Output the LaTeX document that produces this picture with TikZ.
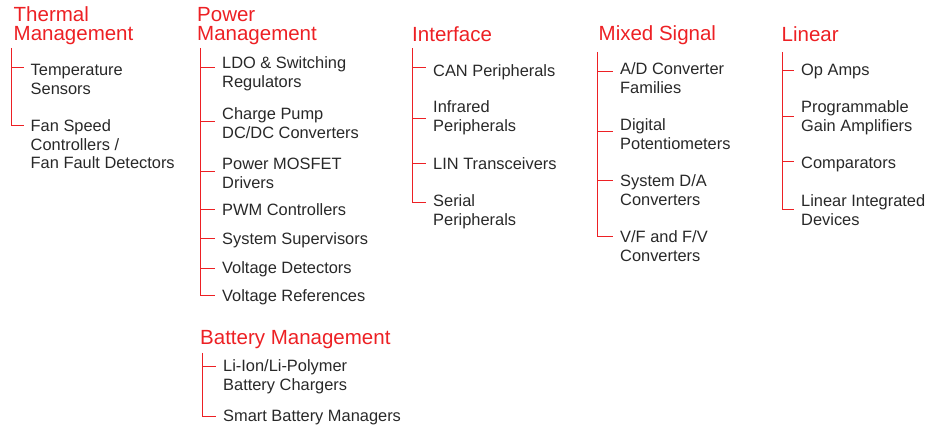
\documentclass[tikz,border=0pt]{standalone}
\usepackage{fontspec}
\setmainfont{Liberation Sans}
\usepackage{tikz}

\definecolor{mchred}{RGB}{237,32,36}
\definecolor{mchgray}{RGB}{40,40,40}
\newcommand{\catfont}{\fontsize{20.5}{19}\selectfont}
\newcommand{\prodfont}{\fontsize{16.4}{18.5}\selectfont}

% multi-line nodes sit on the baseline of their last line
\tikzset{
    cat/.style={anchor=base west, align=left, inner sep=0pt, text=mchred, font=\catfont},
    prod/.style={anchor=base west, align=left, inner xsep=7pt, inner ysep=0pt, text=mchgray, font=\prodfont},
    branch/.style={draw=mchred, line width=1pt}
}

\begin{document}
\begin{tikzpicture}[x=1pt, y=1pt]
    \useasboundingbox (0,0) rectangle (940,-427);

    % thermal management
    \node[cat] at (13.5,-40.5) (TM) {Thermal\\Management};
    \node[prod] at (23.5,-94.5) (TM1) {Temperature\\Sensors};
    \node[prod] at (23.5,-169) (TM2) {Fan Speed\\Controllers /\\Fan Fault Detectors};
    \coordinate (TM0) at (11,-48);
    \coordinate (t1) at (11,-68);
    \coordinate (t2) at (11,-126);
    \draw[branch] (TM0) |- (t2 -| TM2.west);
    \draw[branch] (t1) -- (t1 -| TM1.west);

    % power management
    \node[cat] at (197,-40.5) (PM) {Power\\Management};
    \node[prod] at (215,-87.5) (PM1) {LDO \& Switching\\Regulators};
    \node[prod] at (215,-138.5) (PM2) {Charge Pump\\DC/DC Converters};
    \node[prod] at (215,-188.5) (PM3) {Power MOSFET\\Drivers};
    \node[prod] at (215,-216) (PM4) {PWM Controllers};
    \node[prod] at (215,-245) (PM5) {System Supervisors};
    \node[prod] at (215,-274) (PM6) {Voltage Detectors};
    \node[prod] at (215,-302) (PM7) {Voltage References};
    \coordinate (PM0) at (200,-48);
    \coordinate (p1) at (200,-68);
    \coordinate (p2) at (200,-122);
    \coordinate (p3) at (200,-172);
    \coordinate (p4) at (200,-210);
    \coordinate (p5) at (200,-239);
    \coordinate (p6) at (200,-269);
    \coordinate (p7) at (200,-296);
    \draw[branch] (PM0) |- (p7 -| PM7.west);
    \draw[branch] (p1) -- (p1 -| PM1.west);
    \draw[branch] (p2) -- (p2 -| PM2.west);
    \draw[branch] (p3) -- (p3 -| PM3.west);
    \draw[branch] (p4) -- (p4 -| PM4.west);
    \draw[branch] (p5) -- (p5 -| PM5.west);
    \draw[branch] (p6) -- (p6 -| PM6.west);

    % battery management
    \node[cat] at (200,-345) (BM) {Battery Management};
    \node[prod] at (216,-390.5) (BM1) {Li-Ion/Li-Polymer\\Battery Chargers};
    \node[prod] at (216,-422) (BM2) {Smart Battery Managers};
    \coordinate (BM0) at (202,-353);
    \coordinate (b1) at (202,-367);
    \coordinate (b2) at (202,-417);
    \draw[branch] (BM0) |- (b2 -| BM2.west);
    \draw[branch] (b1) -- (b1 -| BM1.west);

    % interface
    \node[cat] at (412,-42) (IF) {Interface};
    \node[prod] at (426,-77) (IF1) {CAN Peripherals};
    \node[prod] at (426,-131.5) (IF2) {Infrared\\Peripherals};
    \node[prod] at (426,-170) (IF3) {LIN Transceivers};
    \node[prod] at (426,-225.5) (IF4) {Serial\\Peripherals};
    \coordinate (IF0) at (412,-48);
    \coordinate (i1) at (412,-68);
    \coordinate (i2) at (412,-119);
    \coordinate (i3) at (412,-164);
    \coordinate (i4) at (412,-203);
    \draw[branch] (IF0) |- (i4 -| IF4.west);
    \draw[branch] (i1) -- (i1 -| IF1.west);
    \draw[branch] (i2) -- (i2 -| IF2.west);
    \draw[branch] (i3) -- (i3 -| IF3.west);

    % mixed signal
    \node[cat] at (598.5,-41) (MS) {Mixed Signal};
    \node[prod] at (613,-93.5) (MS1) {A/D Converter\\Families};
    \node[prod] at (613,-149.5) (MS2) {Digital\\Potentiometers};
    \node[prod] at (613,-205.5) (MS3) {System D/A\\Converters};
    \node[prod] at (613,-261.5) (MS4) {V/F and F/V\\Converters};
    \coordinate (MS0) at (597,-52);
    \coordinate (m1) at (597,-72);
    \coordinate (m2) at (597,-132);
    \coordinate (m3) at (597,-181);
    \coordinate (m4) at (597,-237);
    \draw[branch] (MS0) |- (m4 -| MS4.west);
    \draw[branch] (m1) -- (m1 -| MS1.west);
    \draw[branch] (m2) -- (m2 -| MS2.west);
    \draw[branch] (m3) -- (m3 -| MS3.west);

    % linear
    \node[cat] at (781.5,-42) (LN) {Linear};
    \node[prod] at (794,-76) (LN1) {Op Amps};
    \node[prod] at (794,-131.5) (LN2) {Programmable\\Gain Amplifiers};
    \node[prod] at (794,-169) (LN3) {Comparators};
    \node[prod] at (794,-225.5) (LN4) {Linear Integrated\\Devices};
    \coordinate (LN0) at (782,-52);
    \coordinate (l1) at (782,-71);
    \coordinate (l2) at (782,-117);
    \coordinate (l3) at (782,-162);
    \coordinate (l4) at (782,-210);
    \draw[branch] (LN0) |- (l4 -| LN4.west);
    \draw[branch] (l1) -- (l1 -| LN1.west);
    \draw[branch] (l2) -- (l2 -| LN2.west);
    \draw[branch] (l3) -- (l3 -| LN3.west);
\end{tikzpicture}
\end{document}
